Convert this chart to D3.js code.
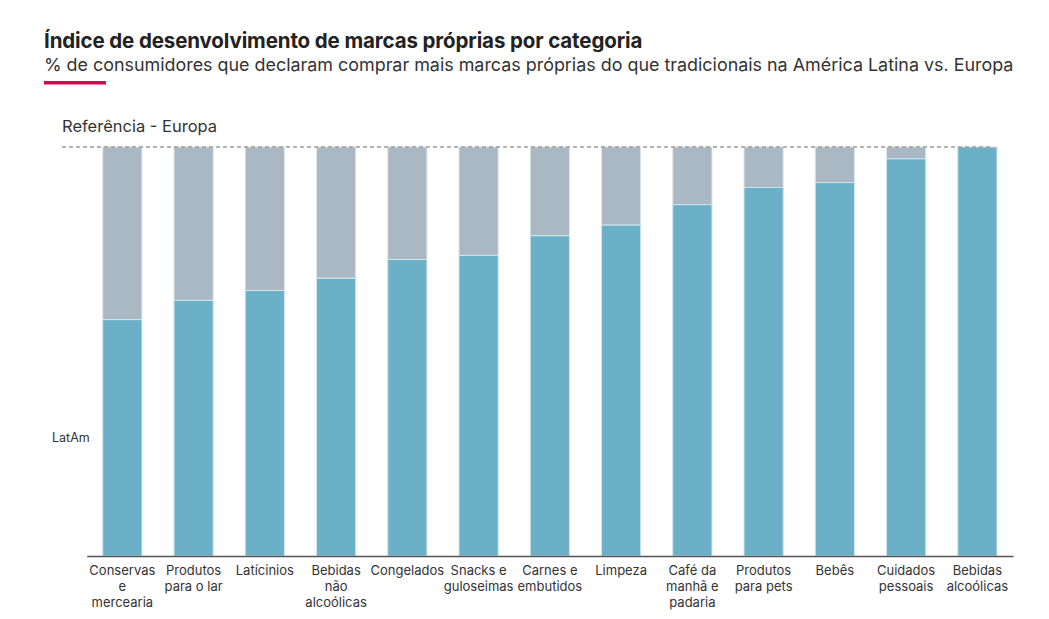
<!DOCTYPE html>
<html><head><meta charset="utf-8">
<script src="https://cdn.jsdelivr.net/npm/d3@7"></script>
<style>
html,body{margin:0;padding:0;background:#fff;}
svg{display:block;font-family:Inter, "Noto Sans", sans-serif;}
</style></head>
<body>
<svg id="chart" width="1049" height="619"></svg>
<script>
const categories = ["Conservas|e|mercearia","Produtos|para o lar","Latícinios","Bebidas|não|alcoólicas","Congelados","Snacks e|guloseimas","Carnes e|embutidos","Limpeza","Café da|manhã e|padaria","Produtos|para pets","Bebês","Cuidados|pessoais","Bebidas|alcoólicas"];
const latam = [57.8,62.5,64.9,67.9,72.5,73.5,78.3,80.9,85.9,90.1,91.3,97.1,100];
const europa = [100,100,100,100,100,100,100,100,100,100,100,100,100];
const yDomain = [0,100];

const svg = d3.select("#chart");
const x = d3.scaleBand().domain(categories).range([86.7,1013]).paddingInner(0.45).paddingOuter(0.225);
const y = d3.scaleLinear().domain(yDomain).range([556,147]);

// titles
svg.append("text").attr("x",44).attr("y",48).attr("font-size",20.5).attr("font-weight",700)
  .attr("fill","#222").attr("letter-spacing",-0.12)
  .text("Índice de desenvolvimento de marcas próprias por categoria");
svg.append("text").attr("x",44).attr("y",71).attr("font-size",17.9).attr("fill","#333")
  .text("% de consumidores que declaram comprar mais marcas próprias do que tradicionais na América Latina vs. Europa");
svg.append("rect").attr("x",44).attr("y",81).attr("width",62).attr("height",3.5).attr("fill","#d20a4f");

svg.append("text").attr("x",62).attr("y",132).attr("font-size",16.5).attr("fill","#333").text("Referência - Europa");
svg.append("text").attr("x",52).attr("y",442).attr("font-size",12.5).attr("fill","#333").text("LatAm");

const g = svg.append("g");
g.selectAll("rect.eu").data(categories).join("rect").attr("class","eu")
  .attr("x",d=>x(d)).attr("width",x.bandwidth())
  .attr("y",(d,i)=>y(europa[i])).attr("height",(d,i)=>y(latam[i])-y(europa[i]))
  .attr("fill","#a9b8c2").attr("stroke","#dfe6ea").attr("stroke-width",1);
g.selectAll("rect.la").data(categories).join("rect").attr("class","la")
  .attr("x",d=>x(d)).attr("width",x.bandwidth())
  .attr("y",(d,i)=>y(latam[i])).attr("height",(d,i)=>y(0)-y(latam[i]))
  .attr("fill","#6cb0c8").attr("stroke","#cfe4ec").attr("stroke-width",1);

svg.append("line").attr("x1",62).attr("x2",993).attr("y1",y(100)).attr("y2",y(100))
  .attr("stroke","#9a9a9a").attr("stroke-width",1.3).attr("stroke-dasharray","4,3");

const ax = svg.append("g").attr("transform",`translate(0,${y(0)})`)
  .call(d3.axisBottom(x).tickSize(0).tickFormat(""));
ax.select(".domain").attr("stroke","#555").attr("stroke-width",1.5);
ax.selectAll(".tick text").remove();
ax.selectAll(".tick").append("text")
  .attr("fill","#333").attr("font-size",13).attr("text-anchor","middle")
  .attr("font-family","Inter, 'Noto Sans', sans-serif")
  .each(function(d){
    const t = d3.select(this);
    d.split("|").forEach((line,i)=>{
      t.append("tspan").attr("x",0).attr("y",19+i*16).text(line);
    });
  });
</script>
</body></html>
